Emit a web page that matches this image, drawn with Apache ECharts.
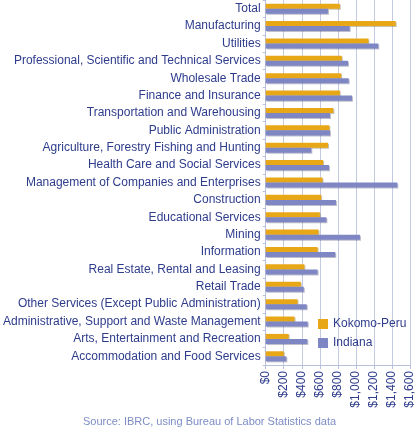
<!DOCTYPE html>
<html><head><meta charset="utf-8">
<script src="https://cdn.jsdelivr.net/npm/echarts@6/dist/echarts.min.js"></script>
<style>html,body{margin:0;padding:0;background:#fff}#c{width:419px;height:429px}</style>
</head><body><div id="c"></div>
<script>
const categories = ["Total","Manufacturing","Utilities","Professional, Scientific and Technical Services","Wholesale Trade","Finance and Insurance","Transportation and Warehousing","Public Administration","Agriculture, Forestry Fishing and Hunting","Health Care and Social Services","Management of Companies and Enterprises","Construction","Educational Services","Mining","Information","Real Estate, Rental and Leasing","Retail Trade","Other Services (Except Public Administration)","Administrative, Support and Waste Management","Arts, Entertainment and Recreation","Accommodation and Food Services"];
const kokomo = [822,1441,1139,844,837,822,750,706,691,637,630,615,600,586,575,429,389,353,320,255,200];
const indiana = [691,931,1248,913,920,957,713,713,506,702,1459,779,673,1045,771,575,422,455,466,462,229];
const tickValues = [0,200,400,600,800,1000,1200,1400,1600];
const textColor = '#2E3C8C';
const chart = echarts.init(document.getElementById('c'));
chart.setOption({
  animation:false,
  grid:{left:264,right:9,top:0,bottom:64,containLabel:false},
  legend:{orient:'vertical',left:313,top:313,itemWidth:10,itemHeight:10,itemGap:7,icon:'rect',
    textStyle:{color:textColor,fontSize:12,fontFamily:'Liberation Sans, Arial'},
    data:['Kokomo-Peru','Indiana']},
  title:{text:'Source: IBRC, using Bureau of Labor Statistics data',left:'center',top:411,
    textStyle:{color:'#7D8CC4',fontSize:11,fontWeight:'normal',fontFamily:'Liberation Sans, Arial'}},
  xAxis:{type:'value',min:0,max:1600,interval:200,
    axisLine:{show:true,lineStyle:{color:'#B8C0DC'}},
    axisTick:{show:true,length:4,lineStyle:{color:'#B8C0DC'}},
    splitLine:{lineStyle:{color:'#C4CAE2'}},
    axisLabel:{rotate:90,color:textColor,fontSize:12,fontFamily:'Liberation Sans, Arial',margin:6,
      formatter:v=>'$'+v.toLocaleString('en-US')}},
  yAxis:{type:'category',inverse:true,data:categories,
    axisLine:{show:true,lineStyle:{color:'#B8C0DC'}},
    axisTick:{show:true,length:3,lineStyle:{color:'#B8C0DC'}},
    axisLabel:{color:textColor,fontSize:12,fontFamily:'Liberation Sans, Arial',margin:5}},
  series:[
    {name:'Kokomo-Peru',type:'bar',data:kokomo,barGap:'0%',barCategoryGap:'42%',
     itemStyle:{color:'#E8A717',shadowColor:'rgba(80,60,0,0.3)',shadowOffsetX:1,shadowOffsetY:1,shadowBlur:0}},
    {name:'Indiana',type:'bar',data:indiana,
     itemStyle:{color:'#7F86C4',shadowColor:'rgba(40,40,90,0.3)',shadowOffsetX:1,shadowOffsetY:1,shadowBlur:0}}
  ]
});
</script></body></html>
